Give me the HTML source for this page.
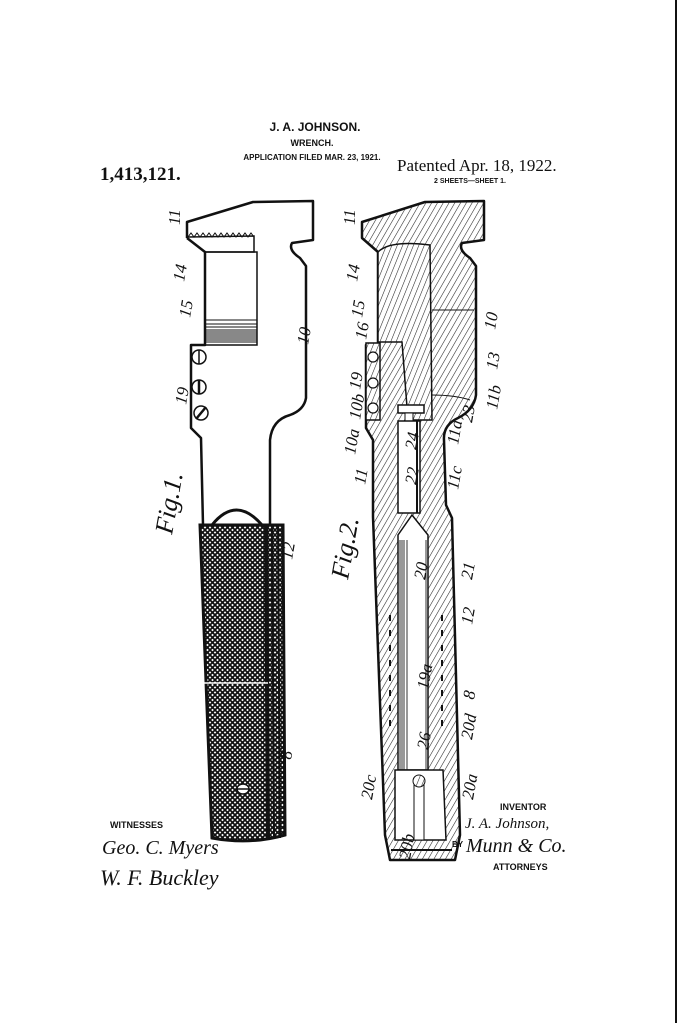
<!DOCTYPE html>
<html><head><meta charset="utf-8"><style>
html,body{margin:0;padding:0;background:#fff;}
svg{display:block}
.t{font-family:"Liberation Sans",sans-serif;font-weight:bold;fill:#111}
.s{font-family:"Liberation Serif",serif;font-weight:bold;fill:#111}
.h{font-family:"Liberation Serif",serif;font-style:italic;fill:#111;font-size:17px}
</style></head><body>
<svg width="697" height="1023" viewBox="0 0 697 1023" xmlns="http://www.w3.org/2000/svg">
<defs>
<pattern id="hat" width="5" height="5" patternUnits="userSpaceOnUse" patternTransform="rotate(30)">
<rect width="5" height="5" fill="#fff"/>
<line x1="0" y1="0" x2="0" y2="5" stroke="#222" stroke-width="1.1"/></pattern>
<pattern id="hat2" width="5" height="5" patternUnits="userSpaceOnUse" patternTransform="rotate(22)">
<rect width="5" height="5" fill="#fff"/>
<line x1="0" y1="0" x2="0" y2="5" stroke="#222" stroke-width="1.1"/></pattern>
<pattern id="knurl" width="5" height="5" patternUnits="userSpaceOnUse">
<rect width="5" height="5" fill="#fff"/>
<path d="M0,0L5,5M5,0L0,5" stroke="#111" stroke-width="1.7"/></pattern>
</defs>
<rect width="697" height="1023" fill="#fff"/>
<line x1="676" y1="0" x2="676" y2="1023" stroke="#111" stroke-width="2"/>
<text x="315" y="131" class="t" font-size="12" text-anchor="middle">J. A. JOHNSON.</text>
<text x="312" y="146" class="t" font-size="9" text-anchor="middle">WRENCH.</text>
<text x="312" y="160" class="t" font-size="8" text-anchor="middle">APPLICATION FILED MAR. 23, 1921.</text>
<text x="100" y="180" class="s" font-size="19">1,413,121.</text>
<text x="397" y="171" font-family="Liberation Serif,serif" font-size="17" fill="#111">Patented Apr. 18, 1922.</text>
<text x="470" y="183" class="t" font-size="7" text-anchor="middle">2 SHEETS—SHEET 1.</text>

<!-- FIG 1 -->
<path d="M187,238 L187,222 L253,202 L313,201 L313,240 L292,243 Q288,250 300,258 L306,266 L306,398 Q304,410 290,415 Q272,420 270,440 L270,525" fill="none" stroke="#111" stroke-width="2.5" stroke-linejoin="round"/>
<path d="M203,525 L201,438 L191,428 L191,345 L205,345 L205,252 L187,238" fill="none" stroke="#111" stroke-width="2.5" stroke-linejoin="round"/>
<path d="M188,237 L254,236 L254,252 L205,252" fill="none" stroke="#111" stroke-width="1.5"/>
<path d="M188,237 l3,-4 l3,4 l3,-4 l3,4 l3,-4 l3,4 l3,-4 l3,4 l3,-4 l3,4 l3,-4 l3,4 l3,-4 l3,4 l3,-4 l3,4 l3,-4 l3,4 l3,-4 l3,4 l3,-4 l3,4" fill="none" stroke="#111" stroke-width="1"/>
<rect x="205" y="252" width="52" height="93" fill="none" stroke="#111" stroke-width="1.5"/>
<g stroke="#111" stroke-width="1">
<line x1="206" y1="320" x2="257" y2="320"/><line x1="206" y1="324" x2="257" y2="324"/><line x1="206" y1="327" x2="257" y2="327"/><line x1="206" y1="330" x2="257" y2="330"/><line x1="206" y1="332" x2="257" y2="332"/><line x1="206" y1="334" x2="257" y2="334"/><line x1="206" y1="336" x2="257" y2="336"/><line x1="206" y1="338" x2="257" y2="338"/><line x1="206" y1="340" x2="257" y2="340"/><line x1="206" y1="342" x2="257" y2="342"/></g>
<g fill="none" stroke="#111" stroke-width="1.5">
<circle cx="199" cy="357" r="7"/><circle cx="199" cy="387" r="7"/><circle cx="201" cy="413" r="7"/>
<line x1="199" y1="350" x2="199" y2="364"/><line x1="199" y1="380" x2="199" y2="394" stroke-width="2.5"/><line x1="196" y1="419" x2="206" y2="407" stroke-width="2.5"/></g>
<path d="M212,525 Q236,495 262,525" fill="none" stroke="#111" stroke-width="3"/>
<path d="M200,525 L283,525 L285,835 Q250,845 212,838 Z" fill="url(#knurl)" stroke="#111" stroke-width="3"/>
<path d="M266,525 L268,838" stroke="#111" stroke-width="4"/>
<path d="M272,525 L274,838 M278,525 L280,838" stroke="#111" stroke-width="2"/>
<line x1="202" y1="683" x2="268" y2="683" stroke="#fff" stroke-width="1.5"/>
<ellipse cx="243" cy="789" rx="6" ry="5" fill="#fff" stroke="#111" stroke-width="1.5"/>
<line x1="237" y1="789" x2="249" y2="789" stroke="#111" stroke-width="1.5"/>

<!-- FIG 2 -->
<path d="M362,222 L425,202 L484,201 L484,240 L462,243 Q458,250 470,258 L476,266 L476,395 Q474,410 458,418 Q443,425 444,440 L446,505 L452,518 L460,835 L455,860 L390,860 L385,835 L373,517 L373,505 L373,440 L366,428 L366,345 L378,345 L378,252 L362,238 Z" fill="url(#hat)" stroke="#111" stroke-width="2.5" stroke-linejoin="round"/>
<path d="M378,252 L378,342 L402,342 L408,420 L432,420 L430,245 Q390,240 378,252 Z" fill="url(#hat2)" stroke="#111" stroke-width="1.5"/>
<rect x="366" y="343" width="14" height="77" fill="url(#hat2)" stroke="#111" stroke-width="1.5"/>
<g fill="#fff" stroke="#111" stroke-width="1.2"><circle cx="373" cy="357" r="5"/><circle cx="373" cy="383" r="5"/><circle cx="373" cy="408" r="5"/></g>
<line x1="432" y1="310" x2="474" y2="310" stroke="#111"/>
<path d="M432,395 Q455,395 470,400" fill="none" stroke="#111"/>
<rect x="398" y="405" width="26" height="8" fill="#fff" stroke="#111" stroke-width="1.5"/>
<rect x="405" y="413" width="8" height="8" fill="#fff" stroke="#111"/>
<rect x="398" y="421" width="22" height="92" fill="#fff" stroke="#111" stroke-width="1.5"/>
<line x1="417" y1="421" x2="417" y2="513" stroke="#111" stroke-width="2"/>
<path d="M398,535 L412,515 L428,535 L428,770 L398,770 Z" fill="#fff" stroke="#111" stroke-width="1.5"/>
<g stroke="#333" stroke-width="1"><line x1="400" y1="540" x2="400" y2="770"/><line x1="402" y1="540" x2="402" y2="770"/><line x1="404" y1="540" x2="404" y2="770"/><line x1="407" y1="540" x2="407" y2="770"/><line x1="426" y1="540" x2="426" y2="770"/></g>
<path d="M395,770 L443,770 L446,840 L395,840 Z" fill="#fff" stroke="#111" stroke-width="1.5"/>
<rect x="414" y="785" width="10" height="55" fill="#fff" stroke="#111"/>
<circle cx="419" cy="781" r="6" fill="url(#hat2)" stroke="#111"/>
<g fill="#111"><rect x="389" y="615" width="2" height="6"/><rect x="389" y="630" width="2" height="6"/><rect x="389" y="645" width="2" height="6"/><rect x="389" y="660" width="2" height="6"/><rect x="389" y="675" width="2" height="6"/><rect x="389" y="690" width="2" height="6"/><rect x="389" y="705" width="2" height="6"/><rect x="389" y="720" width="2" height="6"/>
<rect x="441" y="615" width="2" height="6"/><rect x="441" y="630" width="2" height="6"/><rect x="441" y="645" width="2" height="6"/><rect x="441" y="660" width="2" height="6"/><rect x="441" y="675" width="2" height="6"/><rect x="441" y="690" width="2" height="6"/><rect x="441" y="705" width="2" height="6"/><rect x="441" y="720" width="2" height="6"/></g>
<line x1="391" y1="850" x2="452" y2="850" stroke="#111" stroke-width="2"/>

<g class="h">
<text transform="translate(180,225) rotate(-90)">11</text>
<text transform="translate(184,282) rotate(-80)">14</text>
<text transform="translate(190,318) rotate(-80)">15</text>
<text transform="translate(308,345) rotate(-80)">10</text>
<text transform="translate(186,405) rotate(-80)">19</text>
<text transform="translate(292,560) rotate(-80)">12</text>
<text transform="translate(291,760) rotate(-80)">8</text>
<text transform="translate(172,535) rotate(-80)" font-size="26">Fig.1.</text>
<text transform="translate(355,225) rotate(-90)">11</text>
<text transform="translate(357,282) rotate(-80)">14</text>
<text transform="translate(362,318) rotate(-80)">15</text>
<text transform="translate(366,340) rotate(-80)">16</text>
<text transform="translate(495,330) rotate(-80)">10</text>
<text transform="translate(497,370) rotate(-80)">13</text>
<text transform="translate(360,390) rotate(-80)">19</text>
<text transform="translate(360,420) rotate(-80)">10b</text>
<text transform="translate(497,410) rotate(-80)">11b</text>
<text transform="translate(472,423) rotate(-80)">23</text>
<text transform="translate(416,450) rotate(-80)">24</text>
<text transform="translate(355,455) rotate(-80)">10a</text>
<text transform="translate(458,445) rotate(-80)">11a</text>
<text transform="translate(416,485) rotate(-80)">22</text>
<text transform="translate(365,485) rotate(-80)">11</text>
<text transform="translate(458,490) rotate(-80)">11c</text>
<text transform="translate(348,580) rotate(-80)" font-size="26">Fig.2.</text>
<text transform="translate(425,580) rotate(-80)">20</text>
<text transform="translate(472,580) rotate(-80)">21</text>
<text transform="translate(472,625) rotate(-80)">12</text>
<text transform="translate(428,690) rotate(-80)">19a</text>
<text transform="translate(474,700) rotate(-80)">8</text>
<text transform="translate(472,740) rotate(-80)">20d</text>
<text transform="translate(428,750) rotate(-80)">26</text>
<text transform="translate(372,800) rotate(-80)">20c</text>
<text transform="translate(473,800) rotate(-80)">20a</text>
<text transform="translate(410,860) rotate(-80)">20b</text>
</g>
<text x="500" y="810" class="t" font-size="9">INVENTOR</text>
<text x="465" y="828" font-family="Liberation Serif,serif" font-style="italic" font-size="15" fill="#111">J. A. Johnson,</text>
<text x="452" y="847" class="t" font-size="8">BY</text>
<text x="466" y="852" font-family="Liberation Serif,serif" font-style="italic" font-size="20" fill="#111">Munn &amp; Co.</text>
<text x="493" y="870" class="t" font-size="9">ATTORNEYS</text>
<text x="110" y="828" class="t" font-size="9">WITNESSES</text>
<text x="102" y="854" font-family="Liberation Serif,serif" font-style="italic" font-size="20" fill="#111">Geo. C. Myers</text>
<text x="100" y="885" font-family="Liberation Serif,serif" font-style="italic" font-size="22" fill="#111">W. F. Buckley</text>
</svg>
</body></html>
